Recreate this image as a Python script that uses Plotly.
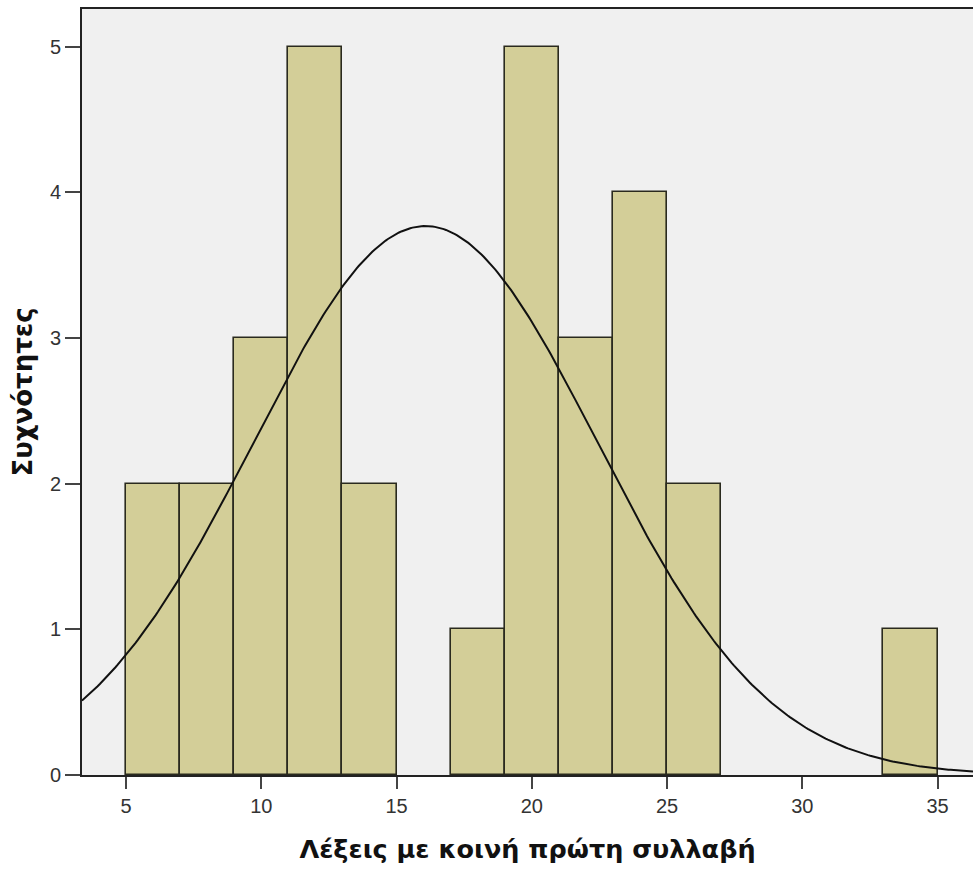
import numpy as np
import plotly.graph_objects as go

# Histogram bins (left edges, width 2) and counts
bin_starts = [5, 7, 9, 11, 13, 15, 17, 19, 21, 23, 25, 27, 29, 31, 33]
counts     = [2, 2, 3, 5, 2, 0, 1, 5, 3, 4, 2, 0, 0, 0, 1]
bin_width = 2

# Fitted normal curve parameters (as displayed by SPSS)
mean_val = 16.07
sd_val = 6.35
n_total = sum(counts)

x_ticks = [5, 10, 15, 20, 25, 30, 35]
y_ticks = [0, 1, 2, 3, 4, 5]
x_title = "Λέξεις με κοινή πρώτη συλλαβή"
y_title = "Συχνότητες"

x_range = [3.373, 36.31]
y_range = [0, 5.26]

# only non-empty bins are drawn
bx = [s + bin_width / 2 for s, c in zip(bin_starts, counts) if c > 0]
by = [c for c in counts if c > 0]

xc = np.linspace(x_range[0], x_range[1], 400)
yc = n_total * bin_width / (sd_val * np.sqrt(2 * np.pi)) * np.exp(-0.5 * ((xc - mean_val) / sd_val) ** 2)

fig = go.Figure()
fig.add_trace(go.Bar(
    x=bx, y=by, width=bin_width,
    marker=dict(color="#D3CE98", line=dict(color="#2a2a1e", width=1.6)),
    showlegend=False, hoverinfo="x+y"
))
fig.add_trace(go.Scatter(
    x=xc, y=yc, mode="lines",
    line=dict(color="#111111", width=2),
    showlegend=False, hoverinfo="skip"
))

fig.update_layout(
    width=973, height=875,
    margin=dict(l=82, r=0, t=9, b=100, autoexpand=False),
    paper_bgcolor="white",
    plot_bgcolor="#F0F0F0",
    bargap=0,
    font=dict(family="Liberation Sans, Arial, sans-serif", color="#333333"),
    xaxis=dict(
        range=x_range, tickvals=x_ticks, ticktext=[str(v) for v in x_ticks],
        showgrid=False, zeroline=False,
        showline=True, linecolor="#222222", linewidth=2, mirror=True,
        ticks="outside", ticklen=12, tickwidth=2, tickcolor="#444444",
        tickfont=dict(size=20, color="#333333"),
        title=dict(text=x_title, standoff=24,
                   font=dict(family="DejaVu Sans, Verdana, sans-serif", size=25.5, color="#111111", weight="bold")),
    ),
    yaxis=dict(
        range=y_range, tickvals=y_ticks, ticktext=[str(v) for v in y_ticks],
        showgrid=False, zeroline=False,
        showline=True, linecolor="#222222", linewidth=2,
        ticks="outside", ticklen=15, tickwidth=1.5, tickcolor="#444444",
        tickfont=dict(size=20, color="#333333"),
        title=dict(text=y_title, standoff=10,
                   font=dict(family="DejaVu Sans, Verdana, sans-serif", size=26, color="#111111", weight="bold")),
    ),
)

fig.write_html(
    "out.html",
    config={"displayModeBar": False},
    post_script="document.body.style.margin='0';document.body.style.overflow='hidden';"
)
